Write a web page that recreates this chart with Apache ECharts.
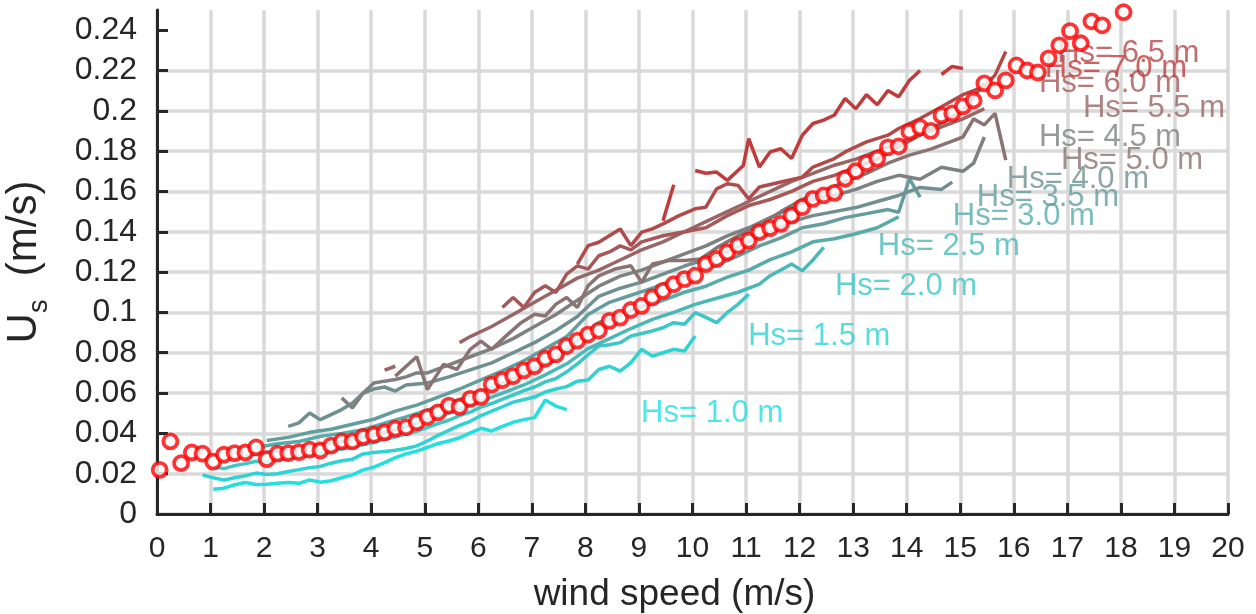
<!DOCTYPE html>
<html>
<head>
<meta charset="utf-8">
<script src="https://cdn.jsdelivr.net/npm/echarts@6/dist/echarts.min.js"></script>
<style>
  html, body { margin: 0; padding: 0; background: #fff; }
  #chart { width: 1256px; height: 614px; }
</style>
</head>
<body>
<div id="chart"></div>
<script>
// Wind-speed bins (m/s) and bin-averaged surface Stokes drift Us (m/s)
const windSpeed = [0.05,0.25,0.45,0.65,0.85,1.05,1.25,1.45,1.65,1.85,2.05,2.25,2.45,2.65,2.85,3.05,3.25,3.45,3.65,3.85,
  4.05,4.25,4.45,4.65,4.85,5.05,5.25,5.45,5.65,5.85,6.05,6.25,6.45,6.65,6.85,7.05,7.25,7.45,7.65,7.85,
  8.05,8.25,8.45,8.65,8.85,9.05,9.25,9.45,9.65,9.85,10.05,10.25,10.45,10.65,10.85,11.05,11.25,11.45,11.65,11.85,
  12.05,12.25,12.45,12.65,12.85,13.05,13.25,13.45,13.65,13.85,14.05,14.25,14.45,14.65,14.85,15.05,15.25,15.45,15.65,15.85,
  16.05,16.25,16.45,16.65,16.85,17.05,17.25,17.45,17.65,18.05];
const stokesDrift = [0.0219,0.0360,0.0252,0.0305,0.0299,0.0260,0.0294,0.0302,0.0305,0.0330,0.0272,0.0299,0.0302,0.0307,0.0319,0.0315,0.0339,0.0360,0.0360,0.0382,
  0.0393,0.0405,0.0423,0.0430,0.0455,0.0481,0.0504,0.0538,0.0531,0.0571,0.0581,0.0642,0.0664,0.0684,0.0712,0.0733,0.0770,0.0792,0.0833,0.0860,
  0.0890,0.0910,0.0958,0.0974,0.1012,0.1032,0.1074,0.1107,0.1140,0.1165,0.1182,0.1240,0.1265,0.1298,0.1331,0.1356,0.1398,0.1418,0.1439,0.1480,
  0.1522,0.1563,0.1580,0.1593,0.1663,0.1701,0.1740,0.1763,0.1819,0.1824,0.1896,0.1918,0.1900,0.1977,0.1987,0.2022,0.2051,0.2136,0.2101,0.2151,
  0.2225,0.2200,0.2190,0.2260,0.2325,0.2395,0.2335,0.2444,0.2424,0.2489];

// Us against wind speed for each significant wave height class, [wind, Us]; null Us = gap
const hs10 = [[1.05,.0123],[1.25,.0128],[1.45,.0145],[1.65,.0156],[1.85,.0146],[2.05,.0148],[2.25,.0153],[2.45,.0156],[2.65,.0152],[2.85,.0169],[3.05,.0158],[3.25,.0165],[3.45,.0180],[3.65,.0194],[3.85,.0219],[4.05,.0232],[4.25,.0255],[4.45,.0280],[4.65,.0298],[4.85,.0312],[5.05,.0330],[5.25,.0350],[5.45,.0362],[5.65,.0378],[5.85,.0402],[6.05,.0425],[6.25,.0412],[6.45,.0435],[6.65,.0455],[6.85,.0468],[7.05,.0478],[7.25,.0565],[7.45,.0535],[7.65,.0518]];
const hs15 = [[0.85,.0194],[1.05,.0180],[1.25,.0169],[1.45,.0180],[1.65,.0190],[1.85,.0203],[2.05,.0196],[2.25,.0200],[2.45,.0211],[2.65,.0220],[2.85,.0230],[3.05,.0236],[3.25,.0252],[3.45,.0264],[3.65,.0272],[3.85,.0298],[4.05,.0305],[4.25,.0310],[4.45,.0316],[4.65,.0325],[4.85,.0338],[5.05,.0362],[5.25,.0390],[5.45,.0415],[5.65,.0440],[5.85,.0460],[6.05,.0488],[6.25,.0510],[6.45,.0532],[6.65,.0555],[6.85,.0568],[7.05,.0580],[7.25,.0605],[7.45,.0620],[7.65,.0632],[7.85,.0659],[8.05,.0665],[8.25,.0717],[8.45,.0733],[8.65,.0709],[8.85,.0751],[9.05,.0817],[9.25,.0783],[9.45,.0800],[9.65,.0817],[9.85,.0808],[10.05,.0883]];
const hs20 = [[1.05,.0235],[1.25,.0225],[1.45,.0240],[1.65,.0250],[1.85,.0262],[2.05,.0258],[2.25,.0270],[2.45,.0275],[2.65,.0285],[2.85,.0290],[3.05,.0300],[3.25,.0312],[3.45,.0322],[3.65,.0330],[3.85,.0345],[4.05,.0355],[4.25,.0370],[4.45,.0382],[4.65,.0398],[4.85,.0410],[5.05,.0430],[5.25,.0448],[5.45,.0465],[5.65,.0488],[5.85,.0505],[6.05,.0530],[6.25,.0548],[6.45,.0570],[6.65,.0590],[6.85,.0612],[7.05,.0630],[7.25,.0655],[7.45,.0672],[7.65,.0705],[7.85,.0745],[8.05,.0790],[8.25,.0833],[8.45,.0840],[8.65,.0850],[8.85,.0883],[9.05,.0895],[9.25,.0908],[9.45,.0924],[9.65,.0949],[9.85,.0941],[10.05,.0999],[10.25,.0975],[10.45,.0949],[10.65,.1000],[10.85,.1040],[11.05,.1090]];
const hs25 = [[1.65,.0290],[2.05,.0305],[2.45,.0320],[2.85,.0335],[3.25,.0350],[3.65,.0372],[4.05,.0392],[4.45,.0418],[4.85,.0450],[5.25,.0482],[5.65,.0520],[6.05,.0560],[6.45,.0600],[6.85,.0640],[7.25,.0690],[7.65,.0745],[8.05,.0820],[8.45,.0870],[8.85,.0920],[9.25,.0965],[9.65,.1000],[10.05,.1040],[10.45,.1070],[10.85,.1100],[11.25,.1140],[11.45,.1182],[11.65,.1210],[11.85,.1240],[12.05,.1206],[12.25,.1260],[12.45,.1323]];
const hs30 = [[1.85,.0330],[2.25,.0348],[2.65,.0360],[3.05,.0385],[3.45,.0400],[3.85,.0418],[4.25,.0450],[4.65,.0482],[5.05,.0515],[5.45,.0548],[5.85,.0590],[6.25,.0628],[6.65,.0670],[7.05,.0718],[7.45,.0765],[7.85,.0860],[8.25,.0950],[8.65,.0985],[9.05,.1030],[9.45,.1060],[9.85,.1100],[10.25,.1130],[10.65,.1175],[11.05,.1210],[11.45,.1262],[11.85,.1300],[12.25,.1350],[12.65,.1365],[13.05,.1390],[13.45,.1420],[13.85,.1474]];
const hs35 = [[2.05,.0365],[2.45,.0380],[2.85,.0405],[3.25,.0420],[3.65,.0445],[4.05,.0470],[4.45,.0510],[4.85,.0540],[5.25,.0580],[5.65,.0620],[6.05,.0665],[6.45,.0710],[6.85,.0760],[7.25,.0820],[7.65,.0880],[8.05,.0990],[8.45,.1050],[8.85,.1085],[9.25,.1120],[9.65,.1160],[10.05,.1200],[10.45,.1235],[10.85,.1280],[11.25,.1330],[11.65,.1370],[12.05,.1420],[12.45,.1440],[12.85,.1470],[13.25,.1490],[13.65,.1510],[13.85,.1497],[14.05,.1663],[14.25,.1572]];
const hs40 = [[2.45,.0435],[2.65,.0452],[2.85,.0501],[3.05,.0468],[3.25,.0493],[3.45,.0518],[3.65,.0551],[3.85,.0600],[4.05,.0620],[4.25,.0630],[4.45,.0610],[4.65,.0640],[5.05,.0650],[5.45,.0680],[5.85,.0715],[6.25,.0750],[6.65,.0800],[7.05,.0850],[7.45,.0910],[7.85,.0980],[8.25,.1080],[8.65,.1120],[9.05,.1150],[9.45,.1190],[9.85,.1230],[10.25,.1265],[10.65,.1300],[11.05,.1350],[11.45,.1395],[11.85,.1450],[12.25,.1480],[12.65,.1500],[13.05,.1520],[13.45,.1550],[13.85,.1580],[14.25,.1620],[14.65,.1610],[14.85,.1646]];
const hs45 = [[3.45,.0576],[3.65,.0526],[3.85,.0600],[4.05,.0650],[4.25,.0659],[4.45,.0667],[4.65,.0680],[4.85,.0700],[5.05,.0700],[5.45,.0740],[5.85,.0780],[6.25,.0820],[6.65,.0870],[7.05,.0930],[7.45,.0990],[7.85,.1060],[8.25,.1130],[8.65,.1180],[9.05,.1210],[9.45,.1250],[9.85,.1290],[10.25,.1330],[10.65,.1380],[11.05,.1420],[11.45,.1470],[11.85,.1520],[12.25,.1560],[12.65,.1580],[13.05,.1610],[13.45,.1650],[13.85,.1680],[14.25,.1660],[14.65,.1720],[15.05,.1700],[15.25,.1740],[15.45,.1870]];
const hs50 = [[4.45,.0684],[4.85,.0780],[5.05,.0617],[5.25,.0700],[5.35,.0742],[5.6,.0717],[5.85,.0817],[6.05,.0858],[6.25,.0817],[6.55,.0891],[6.8,.0949],[7.05,.0991],[7.25,.0982],[7.45,.1041],[7.65,.1074],[7.85,.1024],[8.05,.1132],[8.25,.1181],[8.55,.1215],[8.85,.1231],[9.05,.1149],[9.25,.1240],[9.55,.1257],[9.85,.1257],[10.15,.1265],[10.45,.1320],[10.85,.1380],[11.25,.1430],[11.65,.1500],[12.05,.1560],[12.45,.1600],[12.85,.1650],[13.25,.1690],[13.65,.1740],[14.05,.1780],[14.45,.1810],[14.85,.1850],[15.05,.1870],[15.25,.1960],[15.45,.1930],[15.65,.1987],[15.85,.1755]];
const hs55 = [[4.25,.0714],[4.45,.0733],[4.65,null],[5.65,.0850],[5.85,.0880],[6.25,.0930],[6.65,.0990],[7.05,.1050],[7.45,.1110],[7.85,.1170],[8.25,.1210],[8.65,.1260],[9.05,.1310],[9.45,.1350],[9.85,.1400],[10.25,.1450],[10.65,.1500],[11.05,.1550],[11.45,.1600],[11.85,.1650],[12.25,.1690],[12.65,.1730],[13.05,.1760],[13.45,.1800],[13.85,.1840],[14.25,.1880],[14.65,.1920],[15.05,.1960],[15.45,.2010]];
const hs60 = [[6.45,.1024],[6.65,.1074],[6.85,.1024],[7.05,.1099],[7.25,.1132],[7.45,.1099],[7.65,.1190],[7.85,.1231],[8.05,.1215],[8.25,.1281],[8.45,.1300],[8.65,.1330],[8.85,.1310],[9.05,.1350],[9.45,.1380],[9.85,.1400],[10.25,.1420],[10.65,.1480],[11.05,.1530],[11.45,.1560],[11.85,.1600],[12.25,.1650],[12.65,.1680],[13.05,.1720],[13.45,.1760],[13.85,.1820],[14.25,.1880],[14.65,.1940],[15.05,.2000],[15.45,.2136]];
const hs65 = [[7.85,.1240],[8.05,.1331],[8.25,.1348],[8.65,.1414],[8.85,.1331],[9.05,.1398],[9.25,.1414],[9.45,.1439],[9.75,.1480],[10.05,.1514],[10.25,.1522],[10.45,.1613],[10.65,.1638],[10.85,.1630],[11.05,.1563],[11.25,.1622],[11.65,.1647],[12.05,.1671],[12.25,.1721],[12.65,.1763],[12.85,.1796],[13.25,.1846],[13.65,.1879],[13.85,.1912],[14.25,.1962],[14.65,.2020],[15.05,.2080],[15.45,.2120],[15.65,.2177],[15.85,.2294]];
const hs70 = [[9.45,.1455],[9.65,.1633],[9.85,null],[10.05,.1704],[10.25,.1690],[10.45,.1696],[10.65,.1655],[10.95,.1729],[11.05,.1862],[11.25,.1721],[11.45,.1796],[11.65,.1812],[11.85,.1763],[12.05,.1879],[12.25,.1937],[12.45,.1954],[12.65,.1979],[12.85,.2061],[13.05,.2010],[13.25,.2080],[13.45,.2030],[13.65,.2100],[13.85,.2070],[14.05,.2150],[14.25,.2200],[14.45,null],[14.65,.2180],[14.85,.2220],[15.05,.2210]];

const hsClasses = ['Hs= 1.0 m','Hs= 1.5 m','Hs= 2.0 m','Hs= 2.5 m','Hs= 3.0 m','Hs= 3.5 m','Hs= 4.0 m',
  'Hs= 4.5 m','Hs= 5.0 m','Hs= 5.5 m','Hs= 6.0 m','Hs= 6.5 m','Hs= 7.0 m'];
const hsCurves = [hs10, hs15, hs20, hs25, hs30, hs35, hs40, hs45, hs50, hs55, hs60, hs65, hs70];
// where each class name is written, [wind, Us]
const hsLabelAt = [[9.04,.0498],[11.04,.0881],[12.66,.1130],[13.46,.1329],[14.86,.1474],[15.31,.1568],[15.87,.1658],
  [16.47,.1867],[16.88,.1753],[17.29,.2011],[16.47,.2136],[16.81,.2285],[16.58,.2210]];

const yTicks = [0,0.02,0.04,0.06,0.08,0.1,0.12,0.14,0.16,0.18,0.2,0.22,0.24];

// line colours run from cyan (small waves) to brick red (large waves)
const hsColors = ['#22e0e0','#2fd3d3','#3cc6c6','#4ab8b8','#57abab','#649d9d','#718f8f',
  '#7e8181','#8b7373','#996666','#a65858','#b34a4a','#c03c3c'];

const FONT = '"Liberation Sans", Arial, Helvetica, sans-serif';
const AXIS = '#262626';

const series = [];
hsCurves.forEach((curve, i) => {
  series.push({
    type: 'line',
    name: hsClasses[i],
    data: curve.map(p => [p[0], p[1] === null ? '-' : p[1]]),
    showSymbol: false,
    symbol: 'none',
    connectNulls: false,
    lineStyle: { width: 3.5, color: hsColors[i] },
    z: 2,
    animation: false
  });
});
series.push({
  type: 'scatter',
  name: 'labels',
  symbolSize: 0,
  z: 3,
  silent: true,
  data: hsClasses.map((t, i) => ({
    value: hsLabelAt[i],
    name: t,
    label: { color: hsColors[i] }
  })),
  label: {
    show: true,
    position: 'right',
    distance: 0,
    formatter: p => p.name,
    fontFamily: FONT,
    fontSize: 31
  },
  animation: false
});
series.push({
  type: 'scatter',
  name: 'Us',
  data: windSpeed.map((w, i) => [w, stokesDrift[i]]),
  symbol: 'circle',
  symbolSize: 14,
  itemStyle: { color: '#ffffff', borderColor: '#ff0000', borderWidth: 3.8 },
  z: 5,
  animation: false
});

const chart = echarts.init(document.getElementById('chart'), null, { renderer: 'canvas' });
chart.setOption({
  backgroundColor: '#ffffff',
  animation: false,
  grid: { left: 157, right: 28, top: 10, bottom: 100, containLabel: false, outerBoundsMode: 'none' },
  xAxis: {
    type: 'value', min: 0, max: 20, interval: 1,
    name: 'wind speed (m/s)', nameLocation: 'middle', nameGap: 62,
    nameTextStyle: { fontFamily: FONT, fontSize: 37, color: AXIS, padding: [0, 36, 0, 0] },
    axisLine: { show: true, onZero: false, lineStyle: { color: AXIS, width: 3 } },
    axisTick: { show: true, inside: true, length: 11, lineStyle: { color: AXIS, width: 3 } },
    axisLabel: { fontFamily: '"Liberation Sans Narrow", "Liberation Sans", Arial, sans-serif', fontSize: 30, color: AXIS, margin: 20 },
    splitLine: { show: true, lineStyle: { color: '#d9d9d9', width: 3.5 } }
  },
  yAxis: {
    type: 'value', min: 0, max: 0.25, interval: 0.02,
    name: '{a|U}{b|s}{a|  (m/s)}', nameLocation: 'middle', nameGap: 104, nameRotate: 90,
    nameTextStyle: {
      rich: {
        a: { fontFamily: FONT, fontSize: 42, color: AXIS },
        b: { fontFamily: FONT, fontSize: 27, color: AXIS, padding: [30, 0, 0, 0] }
      }
    },
    axisLine: { show: true, onZero: false, lineStyle: { color: AXIS, width: 3 } },
    axisTick: { show: true, inside: true, length: 11, lineStyle: { color: AXIS, width: 3 }, customValues: yTicks },
    axisLabel: { fontFamily: FONT, fontSize: 32, color: AXIS, margin: 20, customValues: yTicks },
    splitLine: { show: true, showMaxLine: false, lineStyle: { color: '#d9d9d9', width: 3.5 } }
  },
  series: series
});
</script>
</body>
</html>
